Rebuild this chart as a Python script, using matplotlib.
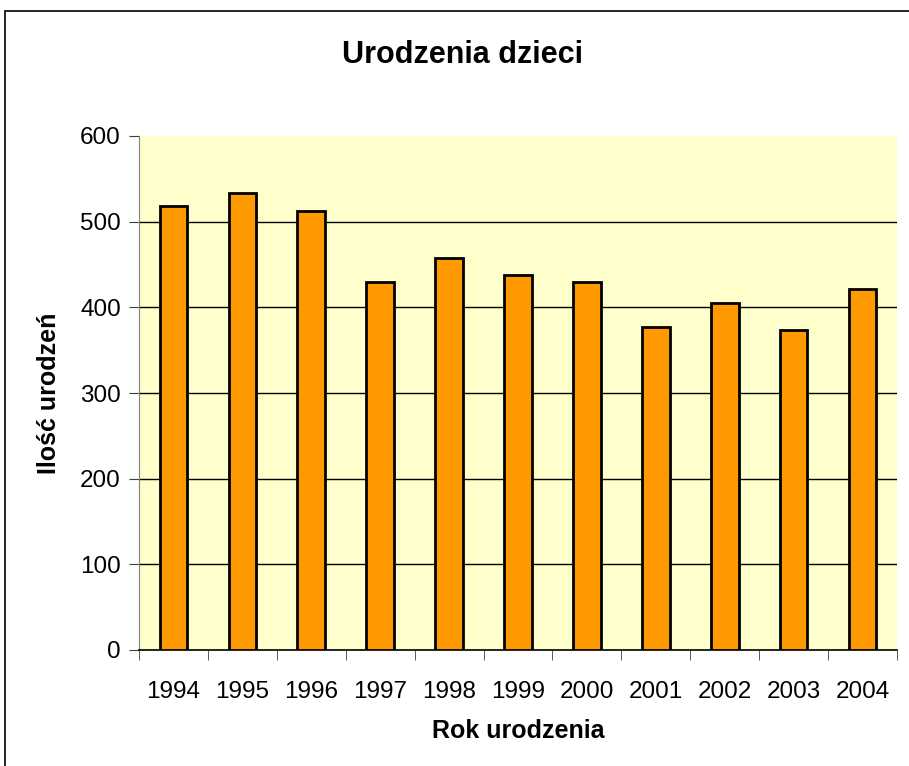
import matplotlib
matplotlib.use("Agg")
import matplotlib.pyplot as plt
from matplotlib.patches import Rectangle

years = ["1994", "1995", "1996", "1997", "1998", "1999", "2000", "2001", "2002", "2003", "2004"]
births = [518, 533, 513, 430, 458, 438, 430, 377, 405, 373, 421]
yticks = [0, 100, 200, 300, 400, 500, 600]

plt.rcParams['font.family'] = ['Liberation Sans', 'DejaVu Sans']

W, H = 909, 766
fig = plt.figure(figsize=(W/100, H/100), dpi=100)
fig.patches.append(Rectangle((5/W, -0.5), 2.0, 1.5 - 11/H, transform=fig.transFigure,
                             fill=False, edgecolor='black', linewidth=1.2, clip_on=False))

left, right, top, bottom = 139, 897, 136, 650
ax = fig.add_axes([left/W, 1 - bottom/H, (right-left)/W, (bottom-top)/H])
ax.set_facecolor('#FFFFCC')

x = list(range(len(years)))
ax.bar(x, births, width=0.4, color='#FF9900', edgecolor='black', linewidth=2, zorder=3)

ax.set_xlim(-0.5, len(years) - 0.5)
ax.set_ylim(0, 600)
ax.set_yticks(yticks)
ax.set_yticklabels([str(v) for v in yticks], fontsize=17.5)
ax.set_xticks(x)
ax.set_xticklabels(years, fontsize=17.5)
ax.tick_params(axis='x', length=0, pad=22)
ax.set_xticks([i - 0.5 for i in range(len(years) + 1)], minor=True)
ax.tick_params(axis='x', which='minor', length=7, color='#404040', direction='out')
ax.tick_params(axis='y', length=7, color='#404040', direction='out', pad=6)

for v in yticks[1:-1]:
    ax.axhline(v, color='black', linewidth=1, zorder=1)

for s in ['top', 'right']:
    ax.spines[s].set_visible(False)
ax.spines['left'].set_color('#808080')
ax.spines['bottom'].set_color('black')
ax.spines['bottom'].set_linewidth(1.2)

ax.set_xlabel('Rok urodzenia', fontsize=18, fontweight='bold', labelpad=12)
ax.set_ylabel('Ilość urodzeń', fontsize=18, fontweight='bold', labelpad=14)
fig.text(463/W, 1 - 55/H, 'Urodzenia dzieci', fontsize=22, fontweight='bold',
         ha='center', va='center')

fig.savefig('out.png', dpi=100)
